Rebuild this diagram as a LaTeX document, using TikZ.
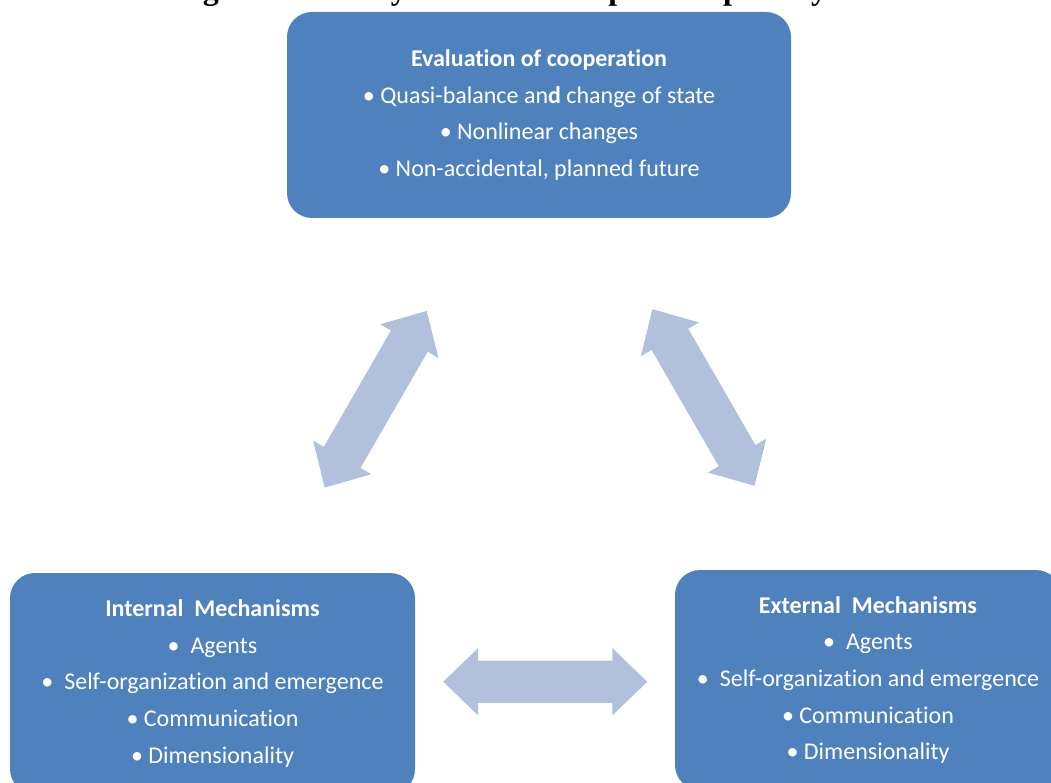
\documentclass[tikz,border=0pt]{standalone}
\usepackage{fontspec}
\setmainfont{Carlito}[Ligatures=NoCommon]
\newfontfamily\capfont{Liberation Serif}
\usetikzlibrary{positioning,calc,shapes.arrows}
\definecolor{boxblue}{RGB}{79,129,189}
\definecolor{arrblue}{RGB}{178,193,219}
\tikzset{
  blk/.style ={rectangle, rounded corners=25pt, fill=boxblue, text=white, align=center, inner sep=0pt,
               font=\fontsize{24}{36.7}\selectfont},
  dbl/.style ={double arrow, fill=arrblue, inner xsep=0pt, inner ysep=21pt, minimum height=204pt,
               double arrow head extend=12.5pt, double arrow tip angle=88},
  figcap/.style ={font=\capfont\bfseries\fontsize{32}{38}\selectfont, inner sep=0pt},
}
\begin{document}
\begin{tikzpicture}[x=1pt, y=-1pt]
\useasboundingbox (0,0) rectangle (1051,783);
\clip (0,0) rectangle (1051,783);
% caption line, cut at the top edge
\node[figcap, anchor=base] (fig) at (539,0) {Figure 1. Theory frames of complex adaptive systems};
% the three blocks
\node[blk, minimum width=504pt, minimum height=206pt] (eval) at (539,115)
  {\textbf{Evaluation of cooperation}\\
   • Quasi-balance an\textbf{d} change of state\\
   • Nonlinear changes\\
   • Non-accidental, planned future};
\node[blk, minimum width=405pt, minimum height=221pt] (int) at (212.5,683.5)
  {\textbf{Internal\ \ Mechanisms}\\
   •\ \ Agents\\
   •\ \ Self-organization and emergence\\
   • Communication\\
   • Dimensionality};
\node[blk, minimum width=386pt, minimum height=220pt] (ext) at (868,680)
  {\textbf{External\ \ Mechanisms}\\
   •\ \ Agents\\
   •\ \ Self-organization and emergence\\
   • Communication\\
   • Dimensionality};
% double arrows halfway between the blocks
\node[dbl, rotate=60]  (a1) at ($(eval)!0.5!(int)$) {};
\node[dbl, rotate=-60] (a2) at ($(eval)!0.5!(ext)$) {};
\node[dbl] (a3) at ([xshift=5pt]$(int)!0.5!(ext)$) {};
\end{tikzpicture}
\end{document}
